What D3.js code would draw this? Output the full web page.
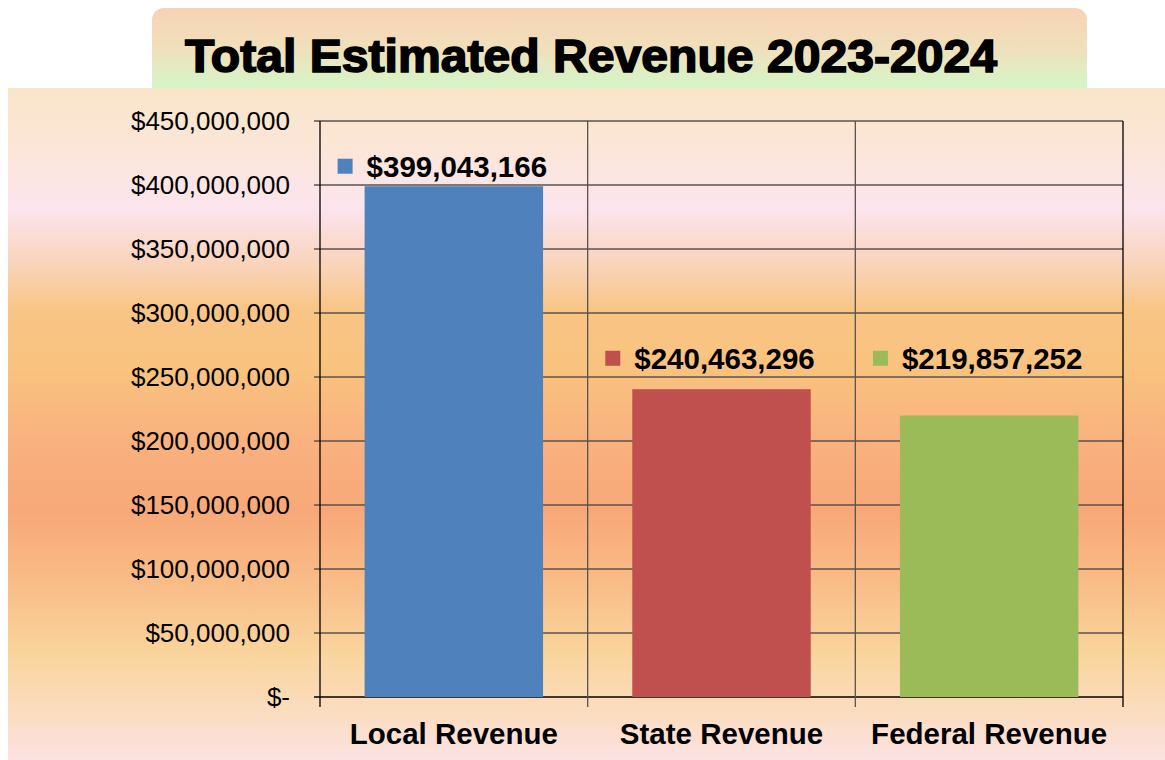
<!DOCTYPE html>
<html>
<head>
<meta charset="utf-8">
<script src="https://cdn.jsdelivr.net/npm/d3@7"></script>
<style>
  html, body { margin: 0; padding: 0; background: #fff; }
  svg { display: block; font-family: "Liberation Sans", Arial, sans-serif; }
</style>
</head>
<body>
<div id="chart"></div>
<script>
// data
var categories = ["Local Revenue", "State Revenue", "Federal Revenue"];
var revenue = [399043166, 240463296, 219857252];
var barColors = ["#4f81bd", "#c0504d", "#9bbb59"];
var yTicks = [0, 50e6, 100e6, 150e6, 200e6, 250e6, 300e6, 350e6, 400e6, 450e6];
var titleText = "Total Estimated Revenue 2023-2024";

var width = 1165, height = 760;
var margin = {left: 320, right: 42, top: 121, bottom: 63};

var svg = d3.select("#chart").append("svg").attr("width", width).attr("height", height);
var defs = svg.append("defs");

// background gradients
var bg = defs.append("linearGradient").attr("id", "bg").attr("x1", 0).attr("y1", 0).attr("x2", 0).attr("y2", 1);
[[0, "#f9e6c9"], [0.09, "#fbe6d8"], [0.18, "#fce4ee"], [0.27, "#f9d2b6"], [0.33, "#f9c585"],
 [0.42, "#f9c27e"], [0.52, "#f9b27f"], [0.63, "#f8a878"], [0.74, "#f9bd88"], [0.84, "#fad49c"],
 [0.92, "#fbdcbc"], [1, "#fce2e2"]].forEach(function(s){
  bg.append("stop").attr("offset", s[0]).attr("stop-color", s[1]);
});

var tg = defs.append("linearGradient").attr("id", "titlebg").attr("x1", 0).attr("y1", 0).attr("x2", 0).attr("y2", 1);
tg.append("stop").attr("offset", 0).attr("stop-color", "#f8d2b4");
tg.append("stop").attr("offset", 0.45).attr("stop-color", "#f0e0bc");
tg.append("stop").attr("offset", 1).attr("stop-color", "#cdfccb");

// title box
svg.append("rect").attr("x", 152).attr("y", 8).attr("width", 935).attr("height", 92)
  .attr("rx", 12).attr("fill", "url(#titlebg)");

svg.append("text")
  .attr("x", 185).attr("y", 72)
  .attr("textLength", 812).attr("lengthAdjust", "spacingAndGlyphs")
  .style("font-size", "46px").style("font-weight", "bold")
  .attr("stroke", "#000").attr("stroke-width", 1.6)
  .attr("fill", "#000")
  .text(titleText);

// main panel
svg.append("rect").attr("x", 8).attr("y", 88).attr("width", width - 8).attr("height", height - 88)
  .attr("fill", "url(#bg)");

// scales
var x = d3.scaleBand().domain(categories).range([margin.left, width - margin.right])
  .paddingInner(1/3).paddingOuter(1/6);
var y = d3.scaleLinear().domain([0, 450e6]).range([height - margin.bottom, margin.top]);

var money = d3.format(",");
var g = svg.append("g");

// horizontal gridlines
g.selectAll("line.hgrid").data(yTicks).enter().append("line")
  .attr("x1", margin.left - 6).attr("x2", width - margin.right)
  .attr("y1", function(d){ return y(d); }).attr("y2", function(d){ return y(d); })
  .attr("stroke", function(d){ return d === 0 ? "#000" : "#5a534d"; })
  .attr("stroke-width", 1.3);

// vertical category dividers (and right border)
var step = x.step();
var dividers = categories.map(function(c, i){ return margin.left + step * (i + 1); });
g.selectAll("line.vgrid").data(dividers).enter().append("line")
  .attr("x1", function(d){ return d; }).attr("x2", function(d){ return d; })
  .attr("y1", margin.top).attr("y2", y(0) + 10)
  .attr("stroke", function(d, i){ return i === dividers.length - 1 ? "#000" : "#5a534d"; })
  .attr("stroke-width", 1.3);

// y axis line
g.append("line").attr("x1", margin.left).attr("x2", margin.left)
  .attr("y1", margin.top).attr("y2", y(0) + 10)
  .attr("stroke", "#000").attr("stroke-width", 1.3);

// y tick labels
g.selectAll("text.ytick").data(yTicks).enter().append("text")
  .attr("x", 290).attr("y", function(d){ return y(d) + 9; })
  .attr("text-anchor", "end")
  .style("font-size", "26px").attr("fill", "#000")
  .text(function(d){ return d === 0 ? "$-" : "$" + money(d); });

// bars
var rows = categories.map(function(c, i){ return {cat: c, value: revenue[i], color: barColors[i]}; });
g.selectAll("rect.bar").data(rows).enter().append("rect")
  .attr("x", function(d){ return x(d.cat); })
  .attr("width", x.bandwidth())
  .attr("y", function(d){ return y(d.value); })
  .attr("height", function(d){ return y(0) - y(d.value); })
  .attr("fill", function(d){ return d.color; });

// data labels (excel keeps the lower two on one line)
var labelFloor = 249e6;
var lab = g.selectAll("g.lab").data(rows).enter().append("g")
  .attr("transform", function(d){
    var cy = Math.min(y(d.value), y(labelFloor)) - 20;
    return "translate(" + x(d.cat) + "," + cy + ")";
  });
lab.append("text")
  .attr("x", 2).attr("y", 10.5)
  .style("font-size", "29.5px").style("font-weight", "bold").attr("fill", "#000")
  .text(function(d){ return "$" + money(d.value); });
lab.append("rect")
  .attr("x", -27).attr("y", -7.5)
  .attr("width", 15).attr("height", 15)
  .attr("fill", function(d){ return d.color; });

// category labels
g.selectAll("text.cat").data(categories).enter().append("text")
  .attr("x", function(d){ return x(d) + x.bandwidth() / 2; })
  .attr("y", y(0) + 47)
  .attr("text-anchor", "middle")
  .style("font-size", "29.5px").style("font-weight", "bold").attr("fill", "#000")
  .text(function(d){ return d; });
</script>
</body>
</html>
